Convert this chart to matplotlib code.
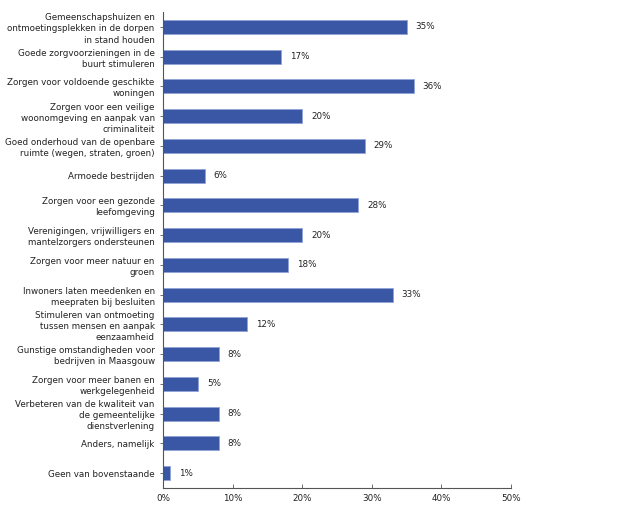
import numpy as np
import matplotlib.pyplot as plt

plt.rcParams['font.family'] = 'DejaVu Sans'

categories = [
    'Gemeenschapshuizen en\nontmoetingsplekken in de dorpen\nin stand houden',
    'Goede zorgvoorzieningen in de\nbuurt stimuleren',
    'Zorgen voor voldoende geschikte\nwoningen',
    'Zorgen voor een veilige\nwoonomgeving en aanpak van\ncriminaliteit',
    'Goed onderhoud van de openbare\nruimte (wegen, straten, groen)',
    'Armoede bestrijden',
    'Zorgen voor een gezonde\nleefomgeving',
    'Verenigingen, vrijwilligers en\nmantelzorgers ondersteunen',
    'Zorgen voor meer natuur en\ngroen',
    'Inwoners laten meedenken en\nmeepraten bij besluiten',
    'Stimuleren van ontmoeting\ntussen mensen en aanpak\neenzaamheid',
    'Gunstige omstandigheden voor\nbedrijven in Maasgouw',
    'Zorgen voor meer banen en\nwerkgelegenheid',
    'Verbeteren van de kwaliteit van\nde gemeentelijke\ndienstverlening',
    'Anders, namelijk',
    'Geen van bovenstaande',
]
values = [35, 17, 36, 20, 29, 6, 28, 20, 18, 33, 12, 8, 5, 8, 8, 1]
xticks = [0, 10, 20, 30, 40, 50]

fig = plt.figure(figsize=(6.4, 5.12), dpi=100)
ax = fig.add_axes([163 / 640, 24 / 512, 348 / 640, 476 / 512])

y = np.arange(len(categories))
ax.barh(y, values, height=0.47, color='#3a57a5', edgecolor='#8fa3d6', linewidth=0.6)

for yi, v in zip(y, values):
    ax.text(v + 1.3, yi, f'{v}%', va='center', ha='left', fontsize=6.3, color='#222222')

ax.set_yticks(y)
ax.set_yticklabels(categories, fontsize=6.3, color='#222222', linespacing=1.3)
ax.set_ylim(len(categories) - 0.5, -0.5)
ax.set_xlim(0, 50)
ax.set_xticks(xticks)
ax.set_xticklabels([f'{t}%' for t in xticks], fontsize=6.3, color='#222222')

for s in ['top', 'right']:
    ax.spines[s].set_visible(False)
for s in ['left', 'bottom']:
    ax.spines[s].set_color('#555555')
    ax.spines[s].set_linewidth(0.8)

ax.tick_params(axis='y', length=2, width=0.6, color='#555555', pad=4)
ax.tick_params(axis='x', length=3, width=0.6, color='#555555', direction='in', pad=4)

plt.savefig('out.png', dpi=100)
